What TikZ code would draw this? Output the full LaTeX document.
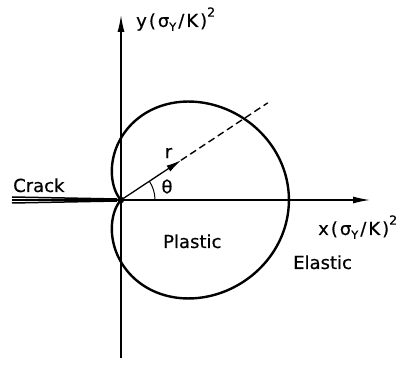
\documentclass[tikz,border=0pt]{standalone}
\usepackage{fontspec}
\setmainfont{DejaVu Sans}[BoldFont=DejaVu Sans,BoldFeatures={FakeBold=0.5}]
\usetikzlibrary{arrows.meta,calc}
\tikzset{
  axis/.style={line width=1.3pt,-{Latex[length=17pt,width=7pt]}},
  zone/.style={line width=2.4pt},
  lbl/.style={inner sep=0pt,anchor=base west,font=\fontsize{18}{21}\selectfont\bfseries},
  declare function={
    rz(\t)=(1+cos(\t))*(38.0+63.5*cos(\t)-24.0*cos(2*\t)+6.47*cos(3*\t));
  },
}
\newcommand{\sgY}{σ\raisebox{-0.4ex}{\fontsize{11.5}{12}\selectfont Y}}
\newcommand{\gp}{\hspace{2pt}}
\newcommand{\axlab}[1]{#1\gp(\gp\sgY\gp/\gp K\gp)\raisebox{1.05ex}{\fontsize{12.5}{13}\selectfont 2}}
\begin{document}
\begin{tikzpicture}[x=1pt,y=1pt]
\useasboundingbox (0,0) rectangle (396,364);
\coordinate (O) at (121,164);
\coordinate (ybot) at (121,6);
\coordinate (ytop) at (121,349);
\coordinate (xtip) at (370,164);
\coordinate (rtip) at ($(O)+(33.5:72)$);
% axes
\draw[line width=1.3pt] (ybot) -- (O);
\draw[axis] (O) -- (ytop);
\draw[axis] (O) -- (xtip);
% crack
\coordinate (c1) at (12,167);
\coordinate (c2) at (12,164);
\coordinate (c3) at (12,161);
\draw[line width=1.5pt] (c1) -- ($(O)+(-4,1)$);
\draw[line width=1.1pt] (c2) -- (O);
\draw[line width=1.5pt] (c3) -- ($(O)+(-4,-1)$);
\fill (O) circle (3.2);
% plastic zone
\draw[zone,shift={(121,164)}] plot[domain=-134:134,samples=241,smooth]
  ({rz(\x)*cos(\x)},{rz(\x)*sin(\x)}) -- cycle;
% r vector and dashed continuation
\coordinate (dend) at ($(O)+(33.5:176)$);
\draw[line width=1.3pt,-{Latex[length=15pt,width=7pt]}] (O) -- (rtip);
\draw[line width=1.4pt,dash pattern=on 7pt off 4pt] (rtip) -- (dend);
% angle arc
\draw[line width=1pt] ($(O)+(34,0)$) arc (0:33.5:34);
% labels
\node[lbl] (crack) at (13,172) {Crack};
\node[lbl] (plastic) at (163,116) {Plastic};
\node[lbl] (elastic) at (293,95) {Elastic};
\node[lbl] (ylab) at (136,337) {\axlab{y}};
\node[lbl] (xlab) at (318,129) {\axlab{x}};
\node[inner sep=0pt,font=\fontsize{18}{21}\selectfont\bfseries] (theta) at (167,177.5) {θ};
\node[inner sep=0pt,font=\fontsize{18}{21}\selectfont\bfseries] (r) at (168.5,211) {r};
\end{tikzpicture}
\end{document}
